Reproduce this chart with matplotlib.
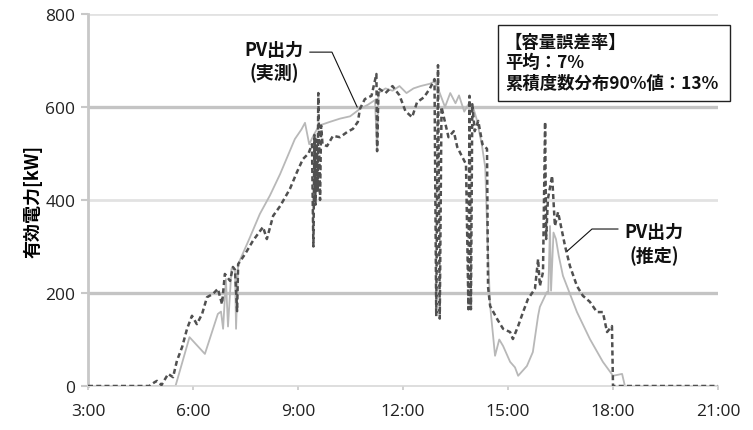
import matplotlib
matplotlib.use("Agg")
import matplotlib.pyplot as plt
from matplotlib.patches import Rectangle

plt.rcParams['font.family'] = ['Noto Sans CJK JP', 'DejaVu Sans']

# ---- data (time in hours, power in kW) ----
t_measured = [3.0, 5.5, 5.9, 6.34, 6.71, 6.8, 6.86, 6.94, 7.0, 7.1, 7.2, 7.23, 7.29,
              7.6, 7.91, 8.2, 8.49, 8.91, 9.1, 9.2, 9.32, 9.45, 9.6, 9.91, 10.2, 10.49,
              10.77, 11.0, 11.2, 11.26, 11.3, 11.5, 11.7, 11.9, 12.1, 12.3, 12.5, 12.77,
              12.9, 13.0, 13.1, 13.2, 13.35, 13.5, 13.6, 13.75, 13.9, 14.0, 14.1, 14.25,
              14.35, 14.42, 14.49, 14.63, 14.75, 14.86, 15.06, 15.2, 15.29, 15.54, 15.71,
              15.86, 15.91, 16.11, 16.15, 16.2, 16.23, 16.3, 16.37, 16.45, 16.57, 16.97,
              17.34, 17.71, 18.0, 18.26, 18.34, 21.0]
pv_measured = [0, 0, 105, 69, 155, 160, 123, 230, 128, 252, 250, 123, 262,
               315, 370, 410, 456, 531, 552, 566, 520, 540, 560, 568, 575, 580,
               596, 605, 615, 505, 630, 640, 635, 645, 630, 640, 645, 650,
               655, 640, 620, 600, 630, 608, 625, 590, 610, 600, 575, 520,
               470, 300, 172, 65, 100, 86, 52, 40, 22, 43, 73,
               151, 170, 202, 200, 344, 205, 330, 316, 280, 237, 159,
               101, 52, 22, 26, 0, 0]

t_estimated = [3.0, 4.75, 4.9, 4.97, 5.1, 5.29, 5.43, 5.54, 5.69, 5.83, 5.97, 6.11, 6.26,
               6.4, 6.57, 6.71, 6.83, 6.91, 7.06, 7.14, 7.2, 7.26, 7.29, 7.49, 7.71, 8.0,
               8.11, 8.29, 8.49, 8.77, 8.97, 9.14, 9.3, 9.4, 9.42, 9.44, 9.47, 9.5, 9.53,
               9.56, 9.58, 9.6, 9.63, 9.66, 9.7, 9.83, 10.0, 10.2, 10.4, 10.57, 10.71,
               10.77, 10.91, 11.1, 11.24, 11.26, 11.3, 11.5, 11.7, 11.9, 12.07, 12.26,
               12.4, 12.6, 12.77, 12.9, 12.95, 13.0, 13.05, 13.1, 13.3, 13.45, 13.55,
               13.65, 13.8, 13.87, 13.9, 13.94, 13.98, 14.05, 14.15, 14.27, 14.4, 14.43,
               14.49, 14.69, 14.86, 15.06, 15.14, 15.29, 15.43, 15.57, 15.77, 15.86,
               15.91, 16.0, 16.06, 16.09, 16.14, 16.26, 16.34, 16.43, 16.63, 16.77,
               16.97, 17.14, 17.34, 17.54, 17.71, 17.83, 17.97, 18.0, 21.0]
pv_estimated = [0, 0, 8, 11, 2, 26, 19, 54, 84, 123, 151, 133, 155,
                191, 198, 209, 176, 241, 226, 256, 250, 161, 262, 284, 312, 342,
                316, 366, 387, 424, 460, 488, 500, 520, 400, 300, 540, 390, 530,
                420, 630, 540, 400, 560, 520, 516, 538, 535, 546, 553, 568,
                596, 617, 624, 671, 505, 640, 630, 645, 625, 591, 578,
                610, 621, 640, 660, 150, 690, 145, 600, 535, 548, 514,
                499, 477, 165, 624, 165, 606, 548, 570, 520, 510, 213,
                172, 144, 123, 116, 101, 129, 159, 187, 209, 273,
                215, 245, 568, 316, 402, 452, 344, 374, 301, 258,
                215, 194, 181, 159, 159, 116, 129, 0, 0]

x_ticks = [3, 6, 9, 12, 15, 18, 21]
x_tick_labels = ["3:00", "6:00", "9:00", "12:00", "15:00", "18:00", "21:00"]
y_ticks = [0, 200, 400, 600, 800]

W, H = 753, 431
fig = plt.figure(figsize=(W / 100, H / 100), dpi=100)
ax = fig.add_axes([88 / W, 1 - 387 / H, (718 - 88) / W, (387 - 15) / H])

ax.set_xlim(3, 21)
ax.set_ylim(0, 800)

# gridlines
for yv in [200, 600]:
    ax.axhline(yv, color='#c4c4c4', lw=2.4, zorder=0)
for yv in [400, 800]:
    ax.axhline(yv, color='#e2e2e2', lw=2.0, zorder=0)

ax.plot(t_measured, pv_measured, color='#b8b8b8', lw=1.3, zorder=2)
ax.plot(t_estimated, pv_estimated, color='#505050', lw=1.8,
        dashes=(2.0, 1.3), zorder=3)

for s in ['top', 'right']:
    ax.spines[s].set_visible(False)
ax.spines['left'].set_color('#c8c8c8')
ax.spines['left'].set_linewidth(2.0)
ax.spines['bottom'].set_color('#d8d8d8')
ax.spines['bottom'].set_linewidth(1.2)

ax.set_xticks(x_ticks)
ax.set_xticklabels(x_tick_labels)
ax.set_yticks(y_ticks)
ax.tick_params(axis='x', length=3, width=1.2, color='#c8c8c8', pad=9,
               labelsize=12.5, labelcolor='#222222')
ax.tick_params(axis='y', length=5, width=1.5, color='#c8c8c8', pad=4,
               labelsize=12.5, labelcolor='#222222')
for lbl in ax.get_xticklabels() + ax.get_yticklabels():
    lbl.set_family(['Open Sans', 'DejaVu Sans'])

ax.set_ylabel('有効電力[kW]', fontsize=13, fontweight='bold', labelpad=2)

# annotations
ax.text(8.31, 699, 'PV出力\n(実測)', ha='center', va='center', fontsize=13,
        fontweight='bold', linespacing=1.25, color='#111111')
ax.plot([9.34, 9.97, 10.69], [718, 718, 600], color='#111111', lw=0.8, zorder=4)

ax.text(19.17, 307, 'PV出力\n(推定)', ha='center', va='center', fontsize=13,
        fontweight='bold', linespacing=1.25, color='#111111')
ax.plot([18.14, 17.4, 16.69], [337.6, 337.6, 290], color='#111111', lw=0.8, zorder=4)

# info box
fig.patches.append(Rectangle((498 / W, 1 - 102 / H), 232 / W, 76 / H,
                             transform=fig.transFigure, facecolor='white',
                             edgecolor='#222222', lw=1.0, zorder=5))
for txt, yp in [('【容量誤差率】', 43), ('平均：7%', 63), ('累積度数分布90%値：13%', 84)]:
    fig.text(505 / W, 1 - yp / H, txt, ha='left', va='center', fontsize=12.5,
             fontweight='bold', color='#111111', zorder=6)

fig.savefig('out.png', dpi=100)
